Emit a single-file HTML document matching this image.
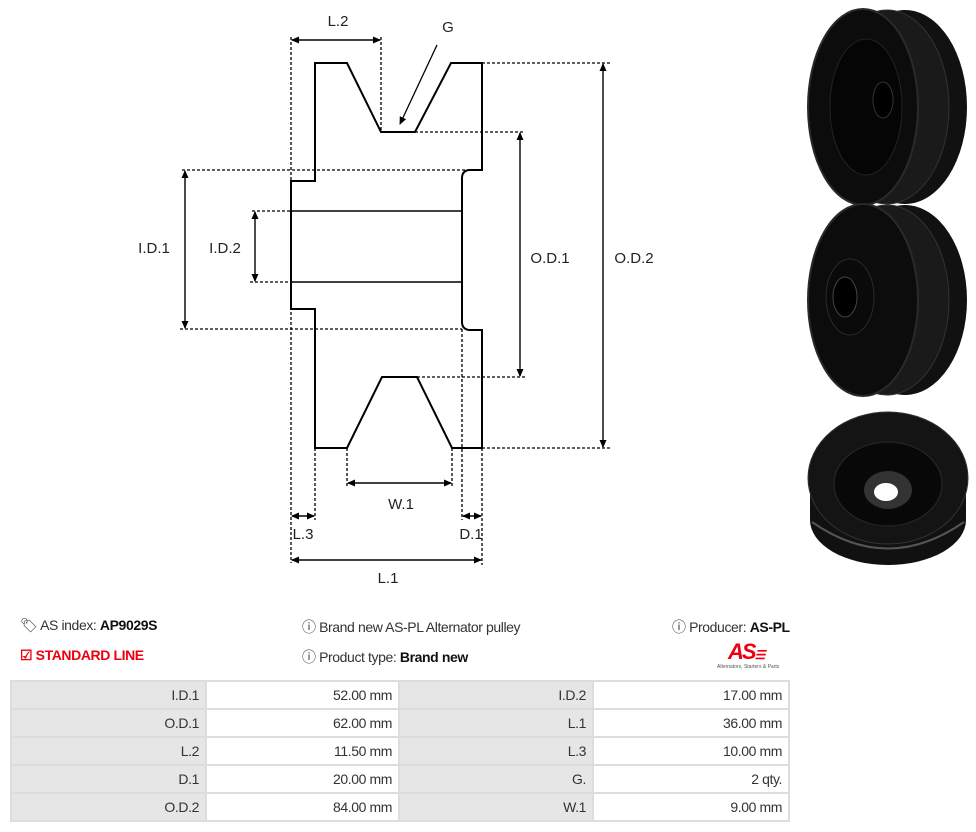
<!DOCTYPE html>
<html><head><meta charset="utf-8"><style>
body{margin:0;width:976px;height:832px;background:#fff;position:relative;overflow:hidden;font-family:"Liberation Sans",sans-serif;}
.t{position:absolute;font-size:14px;color:#333;white-space:nowrap;letter-spacing:-0.4px}
b{color:#111}
table{position:absolute;left:10px;top:680px;width:778px;border-collapse:collapse;font-size:14px;color:#333;table-layout:fixed}
td{border:2px solid #ddd;height:26px;padding:0 6px;text-align:right;letter-spacing:-0.4px}
td.g{background:#e6e6e6}
</style></head><body>
<svg width="976" height="600" style="position:absolute;left:0;top:0" font-family="Liberation Sans,sans-serif">
<defs><marker id="a" markerWidth="8" markerHeight="8" refX="7" refY="4" orient="auto-start-reverse" markerUnits="userSpaceOnUse"><path d="M0,0.5 L8,4 L0,7.5z" fill="#000"/></marker></defs>
<g fill="none" stroke="#000" stroke-width="1.3" stroke-dasharray="3,2">
<line x1="291" y1="37" x2="291" y2="563"/><line x1="381" y1="37" x2="381" y2="132"/>
<line x1="482" y1="63" x2="611" y2="63"/><line x1="482" y1="448" x2="611" y2="448"/>
<line x1="415" y1="132" x2="524" y2="132"/><line x1="417" y1="377" x2="525" y2="377"/>
<line x1="182" y1="170" x2="470" y2="170"/><line x1="180" y1="329" x2="462" y2="329"/>
<line x1="252" y1="211" x2="291" y2="211"/><line x1="250" y1="282" x2="291" y2="282"/>
<line x1="347" y1="448" x2="347" y2="487"/><line x1="452" y1="448" x2="452" y2="487"/>
<line x1="315" y1="448" x2="315" y2="520"/><line x1="462" y1="329" x2="462" y2="520"/><line x1="482" y1="448" x2="482" y2="565"/>
</g>
<path d="M315,63 L347,63 L381,132 L415,132 L451,63 L482,63 L482,170 L469,170 Q462,171 462,178 L462,322 Q462,329 469,330 L482,330 L482,448 L452,448 L417,377 L382,377 L347,448 L315,448 L315,309 L291,309 L291,181 L315,181 Z" fill="none" stroke="#000" stroke-width="2"/>
<line x1="291" y1="211" x2="462" y2="211" stroke="#000" stroke-width="1.6"/><line x1="291" y1="282" x2="462" y2="282" stroke="#000" stroke-width="1.6"/>
<g stroke="#000" stroke-width="1.4" marker-start="url(#a)" marker-end="url(#a)">
<line x1="292" y1="40" x2="380" y2="40"/><line x1="603" y1="64" x2="603" y2="447"/><line x1="520" y1="133" x2="520" y2="376"/>
<line x1="185" y1="171" x2="185" y2="328"/><line x1="255" y1="212" x2="255" y2="281"/>
<line x1="348" y1="483" x2="451" y2="483"/><line x1="292" y1="516" x2="314" y2="516"/><line x1="463" y1="516" x2="481" y2="516"/><line x1="292" y1="560" x2="481" y2="560"/>
</g>
<line x1="437" y1="45" x2="400" y2="124" stroke="#000" stroke-width="1.3" marker-end="url(#a)"/>
<g font-size="15" fill="#222" text-anchor="middle">
<text x="338" y="26">L.2</text><text x="448" y="32">G</text><text x="550" y="263">O.D.1</text><text x="634" y="263">O.D.2</text>
<text x="154" y="253">I.D.1</text><text x="225" y="253">I.D.2</text><text x="401" y="509">W.1</text>
<text x="303" y="539">L.3</text><text x="471" y="539">D.1</text><text x="388" y="583">L.1</text>
</g>
<g>
<ellipse cx="905" cy="107" rx="62" ry="97" fill="#111"/>
<ellipse cx="887" cy="107" rx="62" ry="97" fill="#1a1a1a" stroke="#333"/>
<ellipse cx="863" cy="107" rx="55" ry="98" fill="#0c0c0c" stroke="#2a2a2a" stroke-width="2"/>
<ellipse cx="866" cy="107" rx="36" ry="68" fill="#050505" stroke="#222"/>
<ellipse cx="883" cy="100" rx="10" ry="18" fill="#000" stroke="#333"/>
<ellipse cx="905" cy="300" rx="62" ry="95" fill="#111"/>
<ellipse cx="887" cy="300" rx="62" ry="95" fill="#1a1a1a" stroke="#333"/>
<ellipse cx="863" cy="300" rx="55" ry="96" fill="#0c0c0c" stroke="#2a2a2a" stroke-width="2"/>
<ellipse cx="850" cy="297" rx="24" ry="38" fill="#0a0a0a" stroke="#2a2a2a"/>
<ellipse cx="845" cy="297" rx="12" ry="20" fill="#000" stroke="#444"/>
<ellipse cx="888" cy="520" rx="78" ry="45" fill="#111"/>
<rect x="810" y="480" width="156" height="40" fill="#111"/>
<path d="M812,522 Q888,575 964,522" fill="none" stroke="#555" stroke-width="2"/>
<ellipse cx="888" cy="478" rx="80" ry="66" fill="#141414" stroke="#333"/>
<ellipse cx="888" cy="484" rx="54" ry="42" fill="#080808" stroke="#2a2a2a"/>
<ellipse cx="888" cy="490" rx="24" ry="19" fill="#333"/>
<ellipse cx="886" cy="492" rx="12" ry="9" fill="#fff"/>
</g>
</svg>
<div class="t" style="left:20px;top:617px">&#x1F3F7;&#xFE0E; AS index: <b>AP9029S</b></div>
<div class="t" style="left:20px;top:647px;color:#e01;font-weight:bold">&#9745; STANDARD LINE</div>
<div class="t" style="left:302px;top:617px">&#9432; Brand new AS-PL Alternator pulley</div>
<div class="t" style="left:302px;top:647px">&#9432; Product type: <b>Brand new</b></div>
<div class="t" style="left:672px;top:617px">&#9432; Producer: <b>AS-PL</b></div>
<div style="position:absolute;left:728px;top:639px;color:#e01;font:italic bold 22px 'Liberation Sans',sans-serif;letter-spacing:-2px">AS<span style="font-size:12px">&#9776;</span></div>
<div style="position:absolute;left:717px;top:664px;font-size:5px;color:#555">Alternators, Starters &amp; Parts</div>
<table>
<colgroup><col style="width:195px"><col style="width:193px"><col style="width:194px"><col style="width:196px"></colgroup>
<tr><td class="g">I.D.1</td><td>52.00 mm</td><td class="g">I.D.2</td><td>17.00 mm</td></tr>
<tr><td class="g">O.D.1</td><td>62.00 mm</td><td class="g">L.1</td><td>36.00 mm</td></tr>
<tr><td class="g">L.2</td><td>11.50 mm</td><td class="g">L.3</td><td>10.00 mm</td></tr>
<tr><td class="g">D.1</td><td>20.00 mm</td><td class="g">G.</td><td>2 qty.</td></tr>
<tr><td class="g">O.D.2</td><td>84.00 mm</td><td class="g">W.1</td><td>9.00 mm</td></tr>
</table>
</body></html>
